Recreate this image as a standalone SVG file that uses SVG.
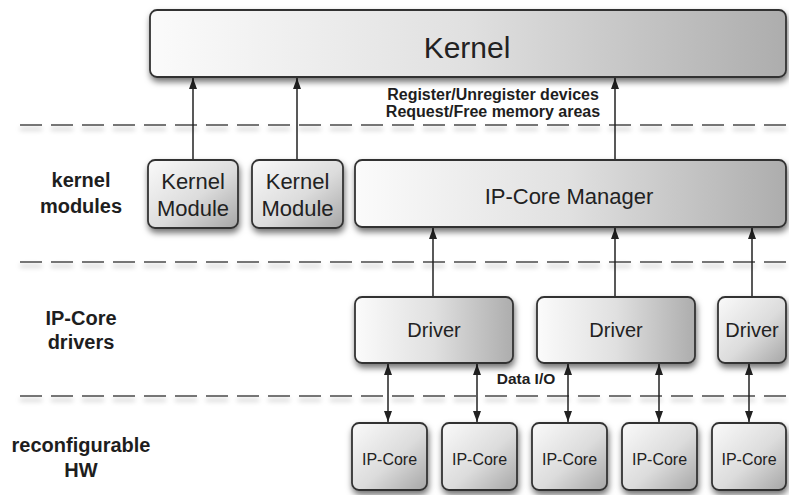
<svg xmlns="http://www.w3.org/2000/svg" width="789" height="495" viewBox="0 0 789 495">
<style>
.box{stroke:#333;stroke-width:1.8;filter:url(#sh)}
.t{font-family:"Liberation Sans",Arial,sans-serif;fill:#222;text-anchor:middle}
.b{font-family:"Liberation Sans",Arial,sans-serif;font-weight:bold;fill:#1e1e1e;text-anchor:middle}
.dash{stroke:#4a4a4a;stroke-width:1.7;stroke-dasharray:22 9;fill:none;filter:url(#dsh)}
.c{stroke:#222;stroke-width:1.5;fill:none}
.up{marker-end:url(#ah)}
.bi{marker-start:url(#ahs);marker-end:url(#ah)}
</style>
<defs>
<linearGradient id="g" x1="0" y1="0" x2="1" y2="0">
<stop offset="0" stop-color="#fbfbfb"/>
<stop offset="0.5" stop-color="#e0e0e0"/>
<stop offset="1" stop-color="#adadad"/>
</linearGradient>
<linearGradient id="gs" x1="0" y1="0" x2="1" y2="1">
<stop offset="0" stop-color="#fafafa"/>
<stop offset="0.55" stop-color="#dcdcdc"/>
<stop offset="1" stop-color="#a6a6a6"/>
</linearGradient>
<filter id="sh" x="-10%" y="-10%" width="125%" height="140%">
<feDropShadow dx="1" dy="4" stdDeviation="3" flood-color="#000" flood-opacity="0.55"/>
</filter>
<filter id="dsh" filterUnits="userSpaceOnUse" x="0" y="0" width="789" height="495">
<feDropShadow dx="0" dy="4" stdDeviation="2.5" flood-color="#000" flood-opacity="0.35"/>
</filter>
<marker id="ah" viewBox="0 0 10 10" refX="10" refY="5" markerWidth="11" markerHeight="8" orient="auto" markerUnits="userSpaceOnUse" preserveAspectRatio="none">
<path d="M0,0 L10,5 L0,10 z" fill="#222"/>
</marker>
<marker id="ahs" viewBox="0 0 10 10" refX="10" refY="5" markerWidth="11" markerHeight="8" orient="auto-start-reverse" markerUnits="userSpaceOnUse" preserveAspectRatio="none">
<path d="M0,0 L10,5 L0,10 z" fill="#222"/>
</marker>
</defs>

<g id="separators">
<line class="dash" x1="20" y1="125" x2="789" y2="125"/>
<line class="dash" x1="20" y1="262" x2="789" y2="262"/>
<line class="dash" x1="20" y1="396" x2="789" y2="396"/>
</g>

<g id="layer-labels">
<text class="b" font-size="20" x="81" y="187">kernel</text>
<text class="b" font-size="20" x="81" y="213">modules</text>
<text class="b" font-size="20" x="81" y="325">IP-Core</text>
<text class="b" font-size="20" x="81" y="349">drivers</text>
<text class="b" font-size="20" x="81" y="452">reconfigurable</text>
<text class="b" font-size="20" x="81" y="477">HW</text>
</g>

<g id="connectors">
<line class="c up" x1="193" y1="160" x2="193" y2="78"/>
<line class="c up" x1="297" y1="160" x2="297" y2="78"/>
<line class="c up" x1="615" y1="160" x2="615" y2="78"/>
<line class="c up" x1="433" y1="297" x2="433" y2="228"/>
<line class="c up" x1="615" y1="297" x2="615" y2="228"/>
<line class="c up" x1="752" y1="297" x2="752" y2="228"/>
<line class="c bi" x1="388" y1="364" x2="388" y2="422"/>
<line class="c bi" x1="477" y1="364" x2="477" y2="422"/>
<line class="c bi" x1="568" y1="364" x2="568" y2="422"/>
<line class="c bi" x1="659" y1="364" x2="659" y2="422"/>
<line class="c bi" x1="749" y1="364" x2="749" y2="422"/>
<text class="b" font-size="16" x="493" y="100">Register/Unregister devices</text>
<text class="b" font-size="16" x="493" y="117">Request/Free memory areas</text>
<text class="b" font-size="15.5" x="526" y="384">Data I/O</text>
</g>

<g id="kernel">
<rect class="box" x="150" y="10" width="636" height="67" rx="7" fill="url(#g)"/>
<text class="t" font-size="30" x="467" y="58">Kernel</text>
</g>

<g id="kernel-module-1">
<rect class="box" x="148" y="160" width="90" height="68" rx="7" fill="url(#gs)"/>
<text class="t" font-size="22" x="193" y="189">Kernel</text>
<text class="t" font-size="22" x="193" y="216">Module</text>
</g>
<g id="kernel-module-2">
<rect class="box" x="252" y="160" width="91" height="68" rx="7" fill="url(#gs)"/>
<text class="t" font-size="22" x="297.5" y="189">Kernel</text>
<text class="t" font-size="22" x="297.5" y="216">Module</text>
</g>

<g id="ip-core-manager">
<rect class="box" x="355" y="160" width="431" height="67" rx="7" fill="url(#g)"/>
<text class="t" font-size="22" x="569" y="204">IP-Core Manager</text>
</g>

<g id="driver-1">
<rect class="box" x="355" y="297" width="158" height="66" rx="7" fill="url(#g)"/>
<text class="t" font-size="20" x="434" y="337">Driver</text>
</g>
<g id="driver-2">
<rect class="box" x="537" y="297" width="158" height="66" rx="7" fill="url(#g)"/>
<text class="t" font-size="20" x="616" y="337">Driver</text>
</g>
<g id="driver-3">
<rect class="box" x="718" y="297" width="68" height="66" rx="7" fill="url(#gs)"/>
<text class="t" font-size="20" x="752" y="337">Driver</text>
</g>

<g id="ip-core-1">
<rect class="box" x="352" y="423" width="75" height="67" rx="7" fill="url(#gs)"/>
<text class="t" font-size="16" x="389.5" y="465">IP-Core</text>
</g>
<g id="ip-core-2">
<rect class="box" x="442" y="423" width="75" height="67" rx="7" fill="url(#gs)"/>
<text class="t" font-size="16" x="479.5" y="465">IP-Core</text>
</g>
<g id="ip-core-3">
<rect class="box" x="532" y="423" width="75" height="67" rx="7" fill="url(#gs)"/>
<text class="t" font-size="16" x="569.5" y="465">IP-Core</text>
</g>
<g id="ip-core-4">
<rect class="box" x="622" y="423" width="75" height="67" rx="7" fill="url(#gs)"/>
<text class="t" font-size="16" x="659.5" y="465">IP-Core</text>
</g>
<g id="ip-core-5">
<rect class="box" x="712" y="423" width="74" height="67" rx="7" fill="url(#gs)"/>
<text class="t" font-size="16" x="749" y="465">IP-Core</text>
</g>
</svg>
